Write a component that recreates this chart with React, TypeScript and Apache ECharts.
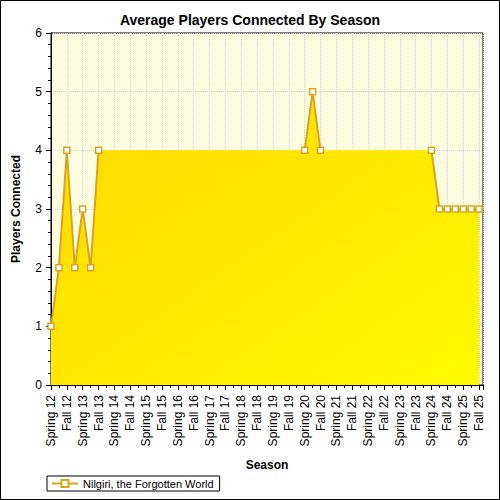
import { useEffect, useRef } from "react";
import * as echarts from "echarts";

// one category per season, the axis only labels Spring and Fall
const seasons = [
  "Spring 12", "Summer 12", "Fall 12", "Winter 12",
  "Spring 13", "Summer 13", "Fall 13", "Winter 13",
  "Spring 14", "Summer 14", "Fall 14", "Winter 14",
  "Spring 15", "Summer 15", "Fall 15", "Winter 15",
  "Spring 16", "Summer 16", "Fall 16", "Winter 16",
  "Spring 17", "Summer 17", "Fall 17", "Winter 17",
  "Spring 18", "Summer 18", "Fall 18", "Winter 18",
  "Spring 19", "Summer 19", "Fall 19", "Winter 19",
  "Spring 20", "Summer 20", "Fall 20", "Winter 20",
  "Spring 21", "Summer 21", "Fall 21", "Winter 21",
  "Spring 22", "Summer 22", "Fall 22", "Winter 22",
  "Spring 23", "Summer 23", "Fall 23", "Winter 23",
  "Spring 24", "Summer 24", "Fall 24", "Winter 24",
  "Spring 25", "Summer 25", "Fall 25",
];

// null = no sample that season (area is bridged, line is not)
const players: (number | null)[] = [
  1, 2, 4, 2, 3, 2, 4, null,
  null, null, null, null, null, null, null, null,
  null, null, null, null, null, null, null, null,
  null, null, null, null, null, null, null, null,
  4, 5, 4, null, null, null, null, null,
  null, null, null, null, null, null, null, null,
  4, 3, 3, 3, 3, 3, 3,
];

const seriesName = "Nilgiri, the Forgotten World";
const yTicks = [0, 1, 2, 3, 4, 5, 6];

const FONT = "Liberation Sans";
const GOLD = "#D9A521";

export default function App() {
  const chartRef = useRef<HTMLDivElement>(null);

  useEffect(() => {
    if (!chartRef.current) return;
    const chart = echarts.init(chartRef.current, null, { renderer: "svg" });

    const pairs = players.map((v, i) => [i, v === null ? "-" : v]);
    const present = players
      .map((v, i) => [i, v])
      .filter((p) => p[1] !== null);

    const xCommon = {
      type: "value" as const,
      min: 0,
      max: seasons.length - 0.5,
    };

    const option: echarts.EChartsOption = {
      animation: false,
      backgroundColor: "#fff",
      title: {
        text: "Average Players Connected By Season",
        left: "center",
        top: 8,
        textStyle: { fontFamily: FONT, fontSize: 14, fontWeight: "bold", color: "#000" },
      },
      grid: {
        left: 51,
        right: 17,
        top: 33,
        bottom: 115,
        containLabel: false,
        outerBoundsMode: "none",
        show: true,
        backgroundColor: "#FFFDE0",
        borderColor: "#000",
        borderWidth: 1,
      } as any,
      legend: {
        data: [seriesName],
        left: 47,
        top: 476,
        orient: "horizontal",
        borderColor: "#000",
        borderWidth: 1,
        padding: [2, 6, 2, 4],
        itemWidth: 26,
        itemHeight: 9,
        itemGap: 6,
        textStyle: { fontFamily: FONT, fontSize: 11, color: "#000" },
      },
      xAxis: [
        {
          ...xCommon,
          position: "bottom",
          interval: 2,
          name: "Season",
          nameLocation: "middle",
          nameGap: 74,
          nameTextStyle: { fontFamily: FONT, fontSize: 12, fontWeight: "bold", color: "#000" },
          axisLine: { lineStyle: { color: "#000", width: 1 } },
          axisTick: { length: 5, lineStyle: { color: "#000" } },
          minorTick: { show: true, splitNumber: 2, length: 3, lineStyle: { color: "#000" } },
          splitLine: { show: true, lineStyle: { type: "dotted", color: "#d4d4d4" } },
          axisLabel: {
            rotate: 90,
            margin: 10,
            fontFamily: FONT,
            fontSize: 12,
            color: "#000",
            showMaxLabel: false,
            formatter: (v: number) =>
              Number.isInteger(v) && v % 2 === 0 && seasons[v] ? seasons[v] : "",
          },
        },
        {
          ...xCommon,
          position: "top",
          interval: 1,
          axisLine: { lineStyle: { color: "#000" } },
          axisTick: { inside: true, length: 3, lineStyle: { color: "#000" } },
          axisLabel: { show: false },
          splitLine: { show: false },
        },
      ],
      yAxis: [
        {
          type: "value",
          min: yTicks[0],
          max: yTicks[yTicks.length - 1],
          interval: 1,
          name: "Players Connected",
          nameLocation: "middle",
          nameGap: 29,
          nameTextStyle: { fontFamily: FONT, fontSize: 12, fontWeight: "bold", color: "#000" },
          axisLine: { show: true, lineStyle: { color: "#000" } },
          axisTick: { show: true, length: 5, lineStyle: { color: "#000" } },
          minorTick: { show: true, splitNumber: 5, length: 3, lineStyle: { color: "#000" } },
          splitLine: { show: true, lineStyle: { type: "dotted", color: "#d4d4d4" } },
          axisLabel: { fontFamily: FONT, fontSize: 12, color: "#000", margin: 9 },
        },
        {
          type: "value",
          position: "right",
          min: yTicks[0],
          max: yTicks[yTicks.length - 1],
          interval: 1,
          axisLine: { show: true, lineStyle: { color: "#000" } },
          axisTick: { show: true, inside: true, length: 4, lineStyle: { color: "#000" } },
          minorTick: { show: true, splitNumber: 5, length: 3, lineStyle: { color: "#000" } },
          axisLabel: { show: false },
          splitLine: { show: false },
        },
      ],
      series: [
        {
          name: "area",
          type: "line",
          data: present as any,
          connectNulls: true,
          showSymbol: false,
          lineStyle: { width: 0, opacity: 0 },
          areaStyle: {
            opacity: 1,
            color: new echarts.graphic.LinearGradient(0, 0, 1, 1, [
              { offset: 0, color: "#FFD700" },
              { offset: 1, color: "#FFFA00" },
            ]),
          },
          z: 2,
          silent: true,
        },
        {
          name: seriesName,
          type: "line",
          data: pairs as any,
          connectNulls: false,
          symbol: "rect",
          symbolSize: 6,
          showAllSymbol: true,
          lineStyle: { color: GOLD, width: 2 },
          itemStyle: { color: "#fff", borderColor: GOLD, borderWidth: 1.5 },
          z: 3,
        },
      ],
      graphic: [
        {
          type: "rect",
          shape: { x: 0.5, y: 0.5, width: 499, height: 499 },
          style: { fill: "none", stroke: "#000", lineWidth: 1 },
          silent: true,
        },
      ],
    };

    chart.setOption(option);
    return () => chart.dispose();
  }, []);

  return (
    <div
      ref={chartRef}
      style={{ position: "fixed", left: 0, top: 0, width: 500, height: 500 }}
    />
  );
}
